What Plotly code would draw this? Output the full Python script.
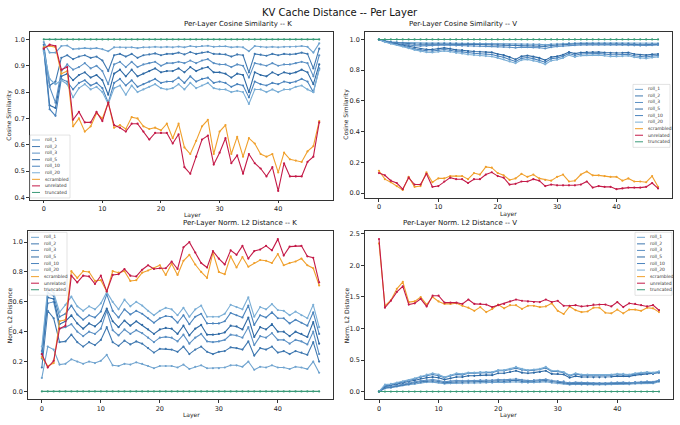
import plotly.graph_objects as go

layers = list(range(48))
series = ["roll_1", "roll_2", "roll_3", "roll_5", "roll_10", "roll_20", "scrambled", "unrelated", "truncated"]

# ---- cosine similarity, K ----
cos_k_roll_1 = [0.99, 0.95, 0.95, 0.975, 0.977, 0.963, 0.965, 0.967, 0.965, 0.967, 0.963, 0.955, 0.97, 0.97, 0.968, 0.97,
                0.967, 0.97, 0.97, 0.972, 0.97, 0.972, 0.97, 0.973, 0.97, 0.975, 0.972, 0.975, 0.976, 0.972, 0.974, 0.974,
                0.97, 0.972, 0.97, 0.955, 0.975, 0.972, 0.97, 0.972, 0.97, 0.972, 0.972, 0.973, 0.975, 0.972, 0.95, 0.985]
cos_k_roll_2 = [0.98, 0.825, 0.84, 0.93, 0.94, 0.925, 0.935, 0.94, 0.93, 0.935, 0.92, 0.88, 0.94, 0.945, 0.935, 0.945,
                0.93, 0.94, 0.943, 0.947, 0.94, 0.945, 0.945, 0.95, 0.943, 0.952, 0.945, 0.95, 0.953, 0.945, 0.945, 0.943,
                0.935, 0.943, 0.94, 0.875, 0.945, 0.942, 0.938, 0.945, 0.94, 0.945, 0.943, 0.945, 0.95, 0.945, 0.89, 0.965]
cos_k_roll_3 = [0.97, 0.82, 0.76, 0.88, 0.905, 0.885, 0.895, 0.91, 0.89, 0.9, 0.88, 0.83, 0.905, 0.915, 0.895, 0.915,
                0.895, 0.905, 0.91, 0.915, 0.9, 0.91, 0.91, 0.915, 0.91, 0.92, 0.91, 0.92, 0.925, 0.91, 0.905, 0.905,
                0.895, 0.905, 0.9, 0.855, 0.91, 0.905, 0.9, 0.91, 0.9, 0.905, 0.905, 0.91, 0.915, 0.91, 0.86, 0.94]
cos_k_roll_5 = [0.965, 0.75, 0.74, 0.86, 0.87, 0.845, 0.865, 0.875, 0.855, 0.865, 0.845, 0.79, 0.87, 0.885, 0.86, 0.885,
                0.86, 0.87, 0.88, 0.89, 0.875, 0.88, 0.88, 0.89, 0.875, 0.895, 0.88, 0.89, 0.895, 0.875, 0.875, 0.87,
                0.855, 0.87, 0.865, 0.8, 0.875, 0.865, 0.86, 0.875, 0.865, 0.875, 0.87, 0.875, 0.885, 0.875, 0.83, 0.905]
cos_k_roll_10 = [0.96, 0.735, 0.71, 0.85, 0.84, 0.81, 0.835, 0.845, 0.825, 0.835, 0.815, 0.76, 0.835, 0.85, 0.825, 0.845,
                 0.82, 0.83, 0.84, 0.85, 0.835, 0.84, 0.84, 0.855, 0.835, 0.86, 0.84, 0.85, 0.855, 0.835, 0.84, 0.835,
                 0.82, 0.83, 0.825, 0.78, 0.84, 0.83, 0.825, 0.835, 0.83, 0.84, 0.835, 0.84, 0.85, 0.84, 0.8, 0.89]
cos_k_roll_20 = [0.955, 0.85, 0.83, 0.845, 0.83, 0.78, 0.815, 0.83, 0.81, 0.82, 0.8, 0.755, 0.815, 0.825, 0.79, 0.825,
                 0.8, 0.81, 0.82, 0.83, 0.815, 0.81, 0.815, 0.83, 0.81, 0.835, 0.815, 0.825, 0.835, 0.815, 0.81, 0.81,
                 0.8, 0.805, 0.8, 0.755, 0.81, 0.81, 0.8, 0.81, 0.8, 0.81, 0.81, 0.82, 0.825, 0.81, 0.8, 0.885]
cos_k_scrambled = [0.97, 0.975, 0.97, 0.87, 0.88, 0.67, 0.70, 0.65, 0.67, 0.72, 0.70, 0.76, 0.665, 0.675, 0.66, 0.705,
                   0.70, 0.67, 0.66, 0.665, 0.655, 0.68, 0.625, 0.68, 0.59, 0.565, 0.615, 0.67, 0.695, 0.565, 0.65, 0.675,
                   0.565, 0.63, 0.555, 0.625, 0.605, 0.565, 0.555, 0.565, 0.495, 0.57, 0.545, 0.54, 0.535, 0.575, 0.595, 0.69]
cos_k_unrelated = [0.965, 0.98, 0.975, 0.885, 0.895, 0.695, 0.725, 0.685, 0.685, 0.725, 0.69, 0.76, 0.675, 0.665, 0.65, 0.68,
                   0.68, 0.65, 0.62, 0.645, 0.645, 0.645, 0.605, 0.64, 0.515, 0.49, 0.555, 0.62, 0.635, 0.525, 0.57, 0.625,
                   0.53, 0.56, 0.49, 0.565, 0.53, 0.51, 0.48, 0.515, 0.425, 0.53, 0.48, 0.48, 0.48, 0.535, 0.555, 0.685]
cos_k_truncated = [1.0] * 48

# ---- cosine similarity, V ----
cos_v_roll_1 = [1.0, 0.99, 0.985, 0.982, 0.98, 0.978, 0.977, 0.976, 0.976, 0.977, 0.977, 0.978, 0.977, 0.976, 0.975, 0.975,
                0.975, 0.974, 0.973, 0.973, 0.972, 0.971, 0.97, 0.969, 0.97, 0.97, 0.969, 0.968, 0.965, 0.969, 0.971, 0.973,
                0.976, 0.976, 0.977, 0.977, 0.978, 0.978, 0.978, 0.977, 0.977, 0.977, 0.976, 0.975, 0.973, 0.974, 0.975, 0.975]
cos_v_roll_2 = [1.0, 0.988, 0.982, 0.978, 0.975, 0.972, 0.97, 0.969, 0.969, 0.97, 0.971, 0.972, 0.971, 0.97, 0.969, 0.969,
                0.968, 0.967, 0.966, 0.966, 0.965, 0.963, 0.962, 0.96, 0.962, 0.962, 0.96, 0.959, 0.955, 0.961, 0.964, 0.966,
                0.97, 0.97, 0.971, 0.971, 0.972, 0.972, 0.972, 0.971, 0.971, 0.97, 0.969, 0.968, 0.966, 0.967, 0.968, 0.968]
cos_v_roll_3 = [1.0, 0.986, 0.979, 0.973, 0.968, 0.963, 0.96, 0.958, 0.958, 0.96, 0.962, 0.964, 0.962, 0.96, 0.959, 0.958,
                0.957, 0.956, 0.955, 0.955, 0.953, 0.951, 0.949, 0.946, 0.95, 0.95, 0.948, 0.946, 0.941, 0.95, 0.954, 0.957,
                0.963, 0.963, 0.965, 0.965, 0.966, 0.966, 0.966, 0.965, 0.965, 0.964, 0.963, 0.962, 0.96, 0.961, 0.963, 0.964]
cos_v_roll_5 = [1.0, 0.985, 0.977, 0.97, 0.962, 0.953, 0.945, 0.938, 0.935, 0.935, 0.94, 0.945, 0.94, 0.932, 0.93, 0.924,
                0.922, 0.92, 0.918, 0.916, 0.905, 0.898, 0.885, 0.87, 0.89, 0.895, 0.888, 0.88, 0.865, 0.885, 0.89, 0.9,
                0.918, 0.908, 0.915, 0.917, 0.918, 0.918, 0.915, 0.912, 0.912, 0.913, 0.915, 0.905, 0.9, 0.898, 0.903, 0.905]
cos_v_roll_10 = [1.0, 0.984, 0.975, 0.967, 0.958, 0.948, 0.938, 0.93, 0.926, 0.925, 0.93, 0.935, 0.93, 0.922, 0.919, 0.913,
                 0.91, 0.907, 0.905, 0.902, 0.892, 0.884, 0.87, 0.857, 0.877, 0.882, 0.875, 0.866, 0.852, 0.874, 0.879, 0.89,
                 0.908, 0.897, 0.905, 0.907, 0.908, 0.908, 0.905, 0.9, 0.9, 0.902, 0.904, 0.894, 0.888, 0.886, 0.892, 0.895]
cos_v_roll_20 = [1.0, 0.983, 0.973, 0.964, 0.954, 0.943, 0.932, 0.922, 0.917, 0.915, 0.92, 0.925, 0.92, 0.912, 0.908, 0.902,
                 0.898, 0.895, 0.892, 0.889, 0.88, 0.871, 0.857, 0.845, 0.866, 0.87, 0.862, 0.853, 0.838, 0.862, 0.868, 0.88,
                 0.898, 0.886, 0.895, 0.897, 0.898, 0.898, 0.894, 0.889, 0.889, 0.891, 0.894, 0.884, 0.878, 0.876, 0.882, 0.886]
cos_v_scrambled = [0.145, 0.09, 0.07, 0.045, 0.02, 0.105, 0.04, 0.045, 0.135, 0.07, 0.095, 0.095, 0.11, 0.11, 0.11, 0.09,
                   0.13, 0.12, 0.17, 0.165, 0.13, 0.115, 0.085, 0.095, 0.125, 0.105, 0.12, 0.095, 0.085, 0.08, 0.105, 0.12,
                   0.075, 0.08, 0.12, 0.14, 0.115, 0.115, 0.11, 0.105, 0.105, 0.08, 0.095, 0.075, 0.075, 0.07, 0.11, 0.04]
cos_v_unrelated = [0.13, 0.115, 0.08, 0.065, 0.025, 0.1, 0.055, 0.055, 0.125, 0.04, 0.045, 0.075, 0.1, 0.09, 0.09, 0.065,
                   0.09, 0.09, 0.12, 0.135, 0.11, 0.1, 0.055, 0.06, 0.075, 0.075, 0.09, 0.08, 0.045, 0.055, 0.05, 0.05,
                   0.05, 0.05, 0.055, 0.075, 0.035, 0.045, 0.04, 0.04, 0.025, 0.03, 0.035, 0.035, 0.035, 0.04, 0.065, 0.03]
cos_v_truncated = [1.0] * 48

# ---- normalised L2 distance, K ----
l2_k_roll_1 = [0.09, 0.30, 0.28, 0.18, 0.185, 0.215, 0.2, 0.185, 0.2, 0.19, 0.205, 0.245, 0.175, 0.17, 0.185, 0.18,
               0.195, 0.185, 0.17, 0.155, 0.17, 0.17, 0.17, 0.16, 0.18, 0.15, 0.165, 0.175, 0.155, 0.155, 0.155, 0.16,
               0.175, 0.175, 0.165, 0.2, 0.145, 0.165, 0.16, 0.175, 0.16, 0.16, 0.15, 0.165, 0.16, 0.15, 0.2, 0.125]
l2_k_roll_2 = [0.16, 0.54, 0.49, 0.33, 0.335, 0.38, 0.33, 0.3, 0.33, 0.31, 0.345, 0.43, 0.33, 0.305, 0.34, 0.315,
               0.335, 0.32, 0.29, 0.26, 0.285, 0.285, 0.28, 0.265, 0.3, 0.25, 0.28, 0.3, 0.265, 0.25, 0.265, 0.27,
               0.295, 0.29, 0.28, 0.335, 0.24, 0.29, 0.28, 0.3, 0.26, 0.27, 0.25, 0.27, 0.26, 0.245, 0.33, 0.2]
l2_k_roll_3 = [0.22, 0.59, 0.6, 0.42, 0.43, 0.45, 0.4, 0.37, 0.4, 0.385, 0.42, 0.54, 0.41, 0.375, 0.415, 0.385,
               0.41, 0.39, 0.36, 0.33, 0.36, 0.365, 0.36, 0.335, 0.38, 0.32, 0.36, 0.385, 0.335, 0.33, 0.335, 0.345,
               0.38, 0.375, 0.36, 0.43, 0.31, 0.37, 0.36, 0.39, 0.345, 0.345, 0.32, 0.345, 0.335, 0.315, 0.4, 0.25]
l2_k_roll_5 = [0.25, 0.63, 0.62, 0.45, 0.47, 0.51, 0.455, 0.42, 0.455, 0.435, 0.47, 0.555, 0.47, 0.43, 0.475, 0.44,
               0.47, 0.445, 0.415, 0.385, 0.415, 0.425, 0.42, 0.385, 0.44, 0.375, 0.42, 0.445, 0.38, 0.38, 0.385, 0.395,
               0.44, 0.435, 0.415, 0.495, 0.365, 0.43, 0.415, 0.45, 0.4, 0.4, 0.37, 0.4, 0.385, 0.365, 0.465, 0.32]
l2_k_roll_10 = [0.27, 0.66, 0.64, 0.5, 0.52, 0.575, 0.515, 0.48, 0.51, 0.495, 0.535, 0.65, 0.54, 0.495, 0.55, 0.515,
                0.54, 0.52, 0.49, 0.46, 0.49, 0.505, 0.5, 0.46, 0.51, 0.45, 0.5, 0.52, 0.455, 0.455, 0.455, 0.47,
                0.525, 0.51, 0.495, 0.575, 0.445, 0.51, 0.495, 0.53, 0.49, 0.49, 0.455, 0.48, 0.46, 0.44, 0.53, 0.385]
l2_k_roll_20 = [0.3, 0.69, 0.66, 0.53, 0.58, 0.635, 0.57, 0.54, 0.57, 0.55, 0.59, 0.665, 0.6, 0.55, 0.615, 0.57,
                0.6, 0.575, 0.54, 0.51, 0.54, 0.56, 0.55, 0.51, 0.56, 0.5, 0.55, 0.575, 0.5, 0.5, 0.5, 0.52,
                0.58, 0.565, 0.55, 0.63, 0.5, 0.565, 0.55, 0.585, 0.545, 0.54, 0.51, 0.535, 0.51, 0.49, 0.58, 0.43]
l2_k_scrambled = [0.23, 0.17, 0.19, 0.47, 0.48, 0.805, 0.76, 0.805, 0.8, 0.74, 0.745, 0.67, 0.805, 0.795, 0.805, 0.74,
                  0.745, 0.795, 0.81, 0.825, 0.845, 0.78, 0.855, 0.78, 0.875, 0.915, 0.85, 0.8, 0.76, 0.93, 0.8, 0.785,
                  0.905, 0.83, 0.9, 0.835, 0.86, 0.88, 0.875, 0.86, 0.92, 0.845, 0.86, 0.87, 0.89, 0.845, 0.825, 0.71]
l2_k_unrelated = [0.25, 0.16, 0.205, 0.42, 0.44, 0.775, 0.73, 0.775, 0.77, 0.72, 0.775, 0.67, 0.78, 0.785, 0.82, 0.775,
                  0.77, 0.815, 0.845, 0.82, 0.825, 0.825, 0.87, 0.82, 0.965, 1.0, 0.93, 0.86, 0.83, 0.94, 0.89, 0.85,
                  0.945, 0.915, 0.975, 0.89, 0.94, 0.95, 0.975, 0.945, 1.02, 0.91, 0.97, 0.975, 0.975, 0.905, 0.895, 0.73]
l2_k_truncated = [0.0] * 48

# ---- normalised L2 distance, V ----
l2_v_roll_1 = [0.0, 0.05, 0.06, 0.08, 0.1, 0.11, 0.12, 0.14, 0.15, 0.15, 0.14, 0.125, 0.13, 0.135, 0.13, 0.135,
               0.135, 0.14, 0.14, 0.14, 0.15, 0.145, 0.15, 0.155, 0.145, 0.14, 0.145, 0.15, 0.155, 0.14, 0.13, 0.125,
               0.11, 0.115, 0.11, 0.11, 0.11, 0.11, 0.11, 0.115, 0.12, 0.12, 0.115, 0.125, 0.13, 0.135, 0.13, 0.155]
l2_v_roll_2 = [0.0, 0.06, 0.07, 0.09, 0.11, 0.12, 0.14, 0.155, 0.165, 0.17, 0.16, 0.14, 0.15, 0.155, 0.15, 0.155,
               0.155, 0.16, 0.16, 0.16, 0.17, 0.165, 0.17, 0.18, 0.165, 0.16, 0.165, 0.17, 0.175, 0.16, 0.15, 0.145,
               0.125, 0.13, 0.125, 0.125, 0.125, 0.125, 0.125, 0.13, 0.135, 0.135, 0.13, 0.14, 0.145, 0.15, 0.145, 0.17]
l2_v_roll_3 = [0.0, 0.07, 0.08, 0.1, 0.12, 0.13, 0.15, 0.17, 0.18, 0.19, 0.175, 0.155, 0.165, 0.175, 0.17, 0.175,
               0.175, 0.18, 0.18, 0.18, 0.19, 0.185, 0.19, 0.2, 0.185, 0.175, 0.18, 0.185, 0.195, 0.175, 0.165, 0.16,
               0.14, 0.145, 0.14, 0.14, 0.135, 0.135, 0.135, 0.14, 0.145, 0.145, 0.14, 0.15, 0.155, 0.16, 0.155, 0.18]
l2_v_roll_5 = [0.0, 0.08, 0.1, 0.12, 0.14, 0.16, 0.18, 0.21, 0.22, 0.23, 0.22, 0.19, 0.21, 0.23, 0.23, 0.25,
               0.25, 0.26, 0.26, 0.26, 0.29, 0.29, 0.31, 0.33, 0.3, 0.29, 0.3, 0.31, 0.33, 0.28, 0.28, 0.27,
               0.22, 0.245, 0.23, 0.23, 0.225, 0.225, 0.225, 0.235, 0.245, 0.245, 0.24, 0.26, 0.27, 0.28, 0.28, 0.3]
l2_v_roll_10 = [0.0, 0.09, 0.11, 0.13, 0.15, 0.17, 0.2, 0.23, 0.25, 0.27, 0.25, 0.22, 0.25, 0.27, 0.265, 0.29,
                0.29, 0.3, 0.3, 0.3, 0.33, 0.33, 0.35, 0.37, 0.345, 0.33, 0.34, 0.35, 0.375, 0.32, 0.32, 0.3,
                0.25, 0.28, 0.26, 0.26, 0.25, 0.25, 0.25, 0.26, 0.27, 0.27, 0.26, 0.28, 0.29, 0.3, 0.29, 0.31]
l2_v_roll_20 = [0.0, 0.11, 0.12, 0.14, 0.16, 0.18, 0.21, 0.24, 0.27, 0.29, 0.27, 0.23, 0.26, 0.29, 0.28, 0.3,
                0.3, 0.31, 0.31, 0.31, 0.34, 0.34, 0.36, 0.39, 0.36, 0.34, 0.35, 0.36, 0.39, 0.33, 0.33, 0.31,
                0.26, 0.29, 0.27, 0.27, 0.26, 0.26, 0.26, 0.27, 0.28, 0.28, 0.27, 0.29, 0.3, 0.31, 0.3, 0.32]
l2_v_scrambled = [2.35, 1.36, 1.45, 1.63, 1.74, 1.42, 1.43, 1.5, 1.38, 1.5, 1.43, 1.39, 1.39, 1.4, 1.36, 1.33,
                  1.28, 1.34, 1.26, 1.31, 1.38, 1.32, 1.37, 1.37, 1.31, 1.36, 1.36, 1.34, 1.35, 1.4, 1.28, 1.23,
                  1.35, 1.29, 1.26, 1.27, 1.33, 1.33, 1.25, 1.24, 1.3, 1.24, 1.3, 1.3, 1.28, 1.33, 1.32, 1.26]
l2_v_unrelated = [2.42, 1.33, 1.44, 1.58, 1.67, 1.38, 1.4, 1.47, 1.35, 1.52, 1.52, 1.41, 1.41, 1.41, 1.39, 1.46,
                  1.39, 1.39, 1.38, 1.34, 1.37, 1.39, 1.43, 1.46, 1.44, 1.43, 1.42, 1.42, 1.46, 1.42, 1.44, 1.36,
                  1.36, 1.37, 1.35, 1.36, 1.38, 1.38, 1.38, 1.35, 1.42, 1.34, 1.4, 1.39, 1.37, 1.35, 1.37, 1.29]
l2_v_truncated = [0.0] * 48

panels = [
    ("Per-Layer Cosine Similarity -- K", "Cosine Similarity",
     [cos_k_roll_1, cos_k_roll_2, cos_k_roll_3, cos_k_roll_5, cos_k_roll_10, cos_k_roll_20,
      cos_k_scrambled, cos_k_unrelated, cos_k_truncated]),
    ("Per-Layer Cosine Similarity -- V", "Cosine Similarity",
     [cos_v_roll_1, cos_v_roll_2, cos_v_roll_3, cos_v_roll_5, cos_v_roll_10, cos_v_roll_20,
      cos_v_scrambled, cos_v_unrelated, cos_v_truncated]),
    ("Per-Layer Norm. L2 Distance -- K", "Norm. L2 Distance",
     [l2_k_roll_1, l2_k_roll_2, l2_k_roll_3, l2_k_roll_5, l2_k_roll_10, l2_k_roll_20,
      l2_k_scrambled, l2_k_unrelated, l2_k_truncated]),
    ("Per-Layer Norm. L2 Distance -- V", "Norm. L2 Distance",
     [l2_v_roll_1, l2_v_roll_2, l2_v_roll_3, l2_v_roll_5, l2_v_roll_10, l2_v_roll_20,
      l2_v_scrambled, l2_v_unrelated, l2_v_truncated]),
]

colors = ["#6fa3cf", "#3f78b0", "#5b90c4", "#2f6aa5", "#4b84bd", "#7aaed6", "#f0a02c", "#c41a48", "#3a9a78"]

W, H = 680, 425
# axes boxes in pixels: (left, right, top, bottom)
boxes = [(30, 333, 31, 200), (365, 672, 31, 198), (28, 333, 232, 401), (365, 673, 232, 401)]
yranges = [[0.392, 1.029], [-0.03, 1.05], [-0.052, 1.072], [-0.121, 2.541]]
ytickvals = [[0.4, 0.5, 0.6, 0.7, 0.8, 0.9, 1.0], [0, 0.2, 0.4, 0.6, 0.8, 1.0],
             [0, 0.2, 0.4, 0.6, 0.8, 1.0], [0, 0.5, 1.0, 1.5, 2.0, 2.5]]
yticktext = [["0.4", "0.5", "0.6", "0.7", "0.8", "0.9", "1.0"], ["0.0", "0.2", "0.4", "0.6", "0.8", "1.0"],
             ["0.0", "0.2", "0.4", "0.6", "0.8", "1.0"], ["0.0", "0.5", "1.0", "1.5", "2.0", "2.5"]]
# legend boxes in pixels: (left, top, width)
legend_boxes = [(30, 135, 40), (633, 84, 37), (29, 233, 38), (635, 233, 37)]
ytitle_x = [9, 346, 9, 346]
xtitle_y = [215.5, 214.5, 417, 417]


def px(x):
    return x / W


def py(y):
    return 1 - y / H


font = "DejaVu Sans, sans-serif"
fig = go.Figure()
annotations = []
shapes = []
for p, (title, ytitle, data) in enumerate(panels):
    sfx = "" if p == 0 else str(p + 1)
    l, r, t, b = boxes[p]
    for name, vals, c in zip(series, data, colors):
        fig.add_trace(go.Scatter(
            x=layers, y=vals, name=name, mode="lines+markers", showlegend=False,
            line=dict(color=c, width=1.1), marker=dict(size=2.2, color=c),
            xaxis="x" + sfx, yaxis="y" + sfx))
    axstyle = dict(showline=True, mirror=True, linecolor="#333", linewidth=0.8, showgrid=False, zeroline=False,
                   ticks="outside", ticklen=3, tickwidth=0.8, tickcolor="#333",
                   tickfont=dict(size=6.5, family=font, color="#222"))
    fig.layout["xaxis" + sfx] = dict(domain=[px(l), px(r)], anchor="y" + sfx, range=[-2.35, 49.35],
                                     tickvals=[0, 10, 20, 30, 40], **axstyle)
    fig.layout["yaxis" + sfx] = dict(domain=[py(b), py(t)], anchor="x" + sfx, range=yranges[p],
                                     tickvals=ytickvals[p], ticktext=yticktext[p], **axstyle)
    # subplot title and axis titles
    annotations.append(dict(text=title, xref="paper", yref="paper", showarrow=False,
                            x=px((l + r) / 2), y=py(t - 2), yanchor="bottom",
                            font=dict(size=7, family=font, color="#111")))
    annotations.append(dict(text="Layer", xref="paper", yref="paper", showarrow=False,
                            x=px((l + r) / 2), y=py(xtitle_y[p]), yanchor="middle",
                            font=dict(size=6, family=font, color="#222")))
    annotations.append(dict(text=ytitle, xref="paper", yref="paper", showarrow=False, textangle=-90,
                            x=px(ytitle_x[p]), y=py((t + b) / 2), xanchor="center", yanchor="middle",
                            font=dict(size=6, family=font, color="#222")))
    # compact legend, matplotlib style
    lx, ly, lw = legend_boxes[p]
    step = 6.6
    shapes.append(dict(type="rect", xref="paper", yref="paper", x0=px(lx), x1=px(lx + lw),
                       y0=py(ly), y1=py(ly + 4 + step * 9), line=dict(color="#d0d0d0", width=0.6),
                       fillcolor="rgba(255,255,255,0.85)", layer="above"))
    for i, (name, c) in enumerate(zip(series, colors)):
        yy = ly + 5 + i * step
        shapes.append(dict(type="line", xref="paper", yref="paper", x0=px(lx + 2), x1=px(lx + 10),
                           y0=py(yy), y1=py(yy), line=dict(color=c, width=1), layer="above"))
        annotations.append(dict(text=name, xref="paper", yref="paper", showarrow=False,
                                x=px(lx + 12.5), y=py(yy), xanchor="left", yanchor="middle",
                                font=dict(size=4.5, family=font, color="#333")))

annotations.append(dict(text="KV Cache Distance -- Per Layer", xref="paper", yref="paper", showarrow=False,
                        x=0.5, y=py(12), yanchor="middle", font=dict(size=10, family=font, color="#111")))

fig.update_layout(width=W, height=H, margin=dict(l=0, r=0, t=0, b=0),
                  paper_bgcolor="white", plot_bgcolor="white", annotations=annotations, shapes=shapes)
fig.write_html("out.html", config={"displayModeBar": False},
               post_script="document.body.style.margin='0';")
